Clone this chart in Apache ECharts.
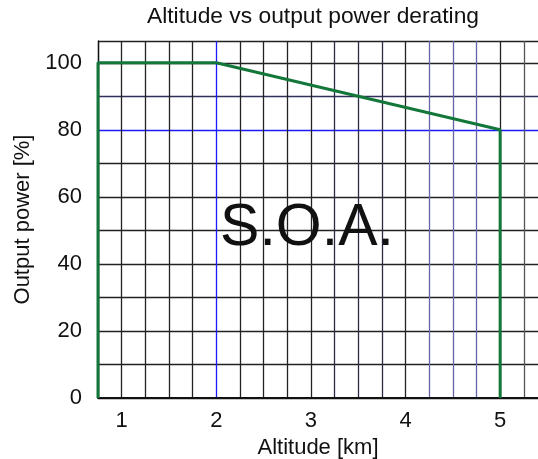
<!DOCTYPE html>
<html>
<head>
<meta charset="utf-8">
<script src="https://cdn.jsdelivr.net/npm/echarts@6/dist/echarts.min.js"></script>
<style>html,body{margin:0;padding:0;background:#fff}#c{width:538px;height:459px}</style>
</head>
<body>
<div id="c"></div>
<script>
// Data
var altitudeKm = [0.75, 0.75, 2, 5, 5];
var outputPower = [0, 100, 100, 80, 0];
var xTickLabels = [1, 2, 3, 4, 5];
var yTickLabels = [0, 20, 40, 60, 80, 100];
var titleText = 'Altitude vs output power derating';
var xName = 'Altitude [km]';
var yName = 'Output power [%]';
var areaLabel = 'S.O.A.';

var font = 'Liberation Sans, Arial, sans-serif';
var xLineColors = ['#222','#222','#222','#222','#222','#1a1aff','#222','#222','#222','#222','#2a2a48','#2a2a48','#2a2a48','#222','#6464aa','#6464aa','#6464aa','#222','#555'];
var yLineColors = ['#111','#222','#222','#222','#222','#222','#222','#222','#1a1aff','#30305a','#222','#222'];

var chart = echarts.init(document.getElementById('c'), null, {renderer: 'canvas'});
chart.setOption({
  animation: false,
  backgroundColor: '#fff',
  title: {
    text: titleText, left: 147, top: 5,
    textStyle: {fontFamily: font, fontSize: 22.8, fontWeight: 'normal', color: '#111'},
    padding: 0
  },
  grid: {left: 98, top: 41, right: 0, bottom: 61, containLabel: false, outerBoundsMode: 'none'},
  xAxis: {
    type: 'value', min: 0.75, max: 5.4, interval: 0.25,
    name: xName, nameLocation: 'middle', nameGap: 34,
    nameTextStyle: {fontFamily: font, fontSize: 22, color: '#111'},
    axisLine: {show: true, lineStyle: {color: '#111', width: 2}},
    axisTick: {show: false},
    axisLabel: {
      fontFamily: font, fontSize: 22, color: '#111', margin: 12,
      showMaxLabel: false,
      formatter: function (v) { return xTickLabels.indexOf(v) >= 0 ? String(v) : ''; }
    },
    splitLine: {show: true, showMaxLine: false, lineStyle: {color: xLineColors, width: 1.3}}
  },
  yAxis: {
    type: 'value', min: 0, max: 106.5, interval: 10,
    name: yName, nameLocation: 'middle', nameGap: 61, nameRotate: 90,
    nameTextStyle: {fontFamily: font, fontSize: 22, color: '#111'},
    axisLine: {show: true, lineStyle: {color: '#111', width: 1.3}},
    axisTick: {show: false},
    axisLabel: {
      fontFamily: font, fontSize: 22, color: '#111', margin: 16,
      formatter: function (v) { return yTickLabels.indexOf(v) >= 0 ? String(v) : ''; }
    },
    splitLine: {show: true, lineStyle: {color: yLineColors, width: 1.3}}
  },
  series: [{
    type: 'line',
    data: altitudeKm.map(function (x, i) { return [x, outputPower[i]]; }),
    showSymbol: false, symbol: 'none', clip: false,
    lineStyle: {color: '#13773a', width: 3},
    z: 5
  }],
  graphic: [{
    type: 'text', z: 10,
    style: {
      text: areaLabel, x: 307, y: 229, align: 'center', verticalAlign: 'middle',
      fontFamily: font, fontSize: 59, fill: '#111'
    }
  }]
});
</script>
</body>
</html>
